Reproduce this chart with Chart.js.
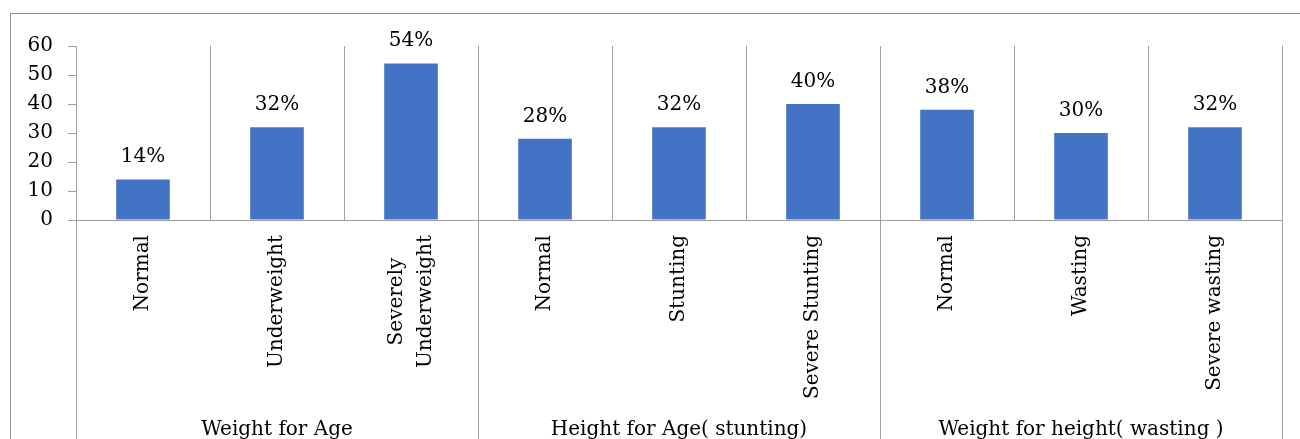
<!DOCTYPE html>
<html><head><meta charset="utf-8">
<script src="https://cdn.jsdelivr.net/npm/chart.js@4"></script>
<style>html,body{margin:0;padding:0;background:#fff;overflow:hidden}#wrap{width:1300px;height:439px;position:relative}</style>
</head><body><div id="wrap"><canvas id="c" width="1300" height="439"></canvas></div>
<script>
const categories = [['Normal'], ['Underweight'], ['Severely', 'Underweight'], ['Normal'], ['Stunting'], ['Severe Stunting'], ['Normal'], ['Wasting'], ['Severe wasting']];
const values = [14, 32, 54, 28, 32, 40, 38, 30, 32];
const groups = ['Weight for Age', 'Height for Age( stunting)', 'Weight for height( wasting )'];
const groupSizes = [3, 3, 3];
const yTicks = [0, 10, 20, 30, 40, 50, 60];

const FONT = '"DejaVu Serif", serif';
const GRID = '#a0a0a0';

const overlay = {
  id: 'overlay',
  afterDraw(chart) {
    const ctx = chart.ctx, xs = chart.scales.x, area = chart.chartArea;
    ctx.save();
    // outer frame
    ctx.strokeStyle = '#8c8c8c'; ctx.lineWidth = 1;
    ctx.beginPath(); ctx.moveTo(10.5, 439); ctx.lineTo(10.5, 13.5); ctx.lineTo(1300, 13.5); ctx.stroke();
    // value labels
    ctx.fillStyle = '#000';
    ctx.font = '20px ' + FONT;
    ctx.textAlign = 'center'; ctx.textBaseline = 'alphabetic';
    chart.getDatasetMeta(0).data.forEach((bar, i) => {
      ctx.fillText(values[i] + '%', bar.x, bar.y - 17);
    });
    // category labels (rotated)
    const lh = 29;
    categories.forEach((lines, i) => {
      const px = xs.getPixelForTick(i);
      const maxW = Math.max(...lines.map(t => ctx.measureText(t).width));
      lines.forEach((t, j) => {
        const cx = px + (j - (lines.length - 1) / 2) * lh;
        ctx.save();
        ctx.translate(cx, area.bottom + 15 + maxW / 2);
        ctx.rotate(-Math.PI / 2);
        ctx.textAlign = 'center'; ctx.textBaseline = 'middle';
        ctx.fillText(t, 0, 0);
        ctx.restore();
      });
    });
    // group separators and labels
    ctx.strokeStyle = GRID; ctx.lineWidth = 1;
    let start = 0;
    const edges = [xs.getPixelForValue(-0.5)];
    groupSizes.forEach((n, g) => {
      const l = xs.getPixelForValue(start - 0.5), r = xs.getPixelForValue(start + n - 0.5);
      edges.push(r);
      ctx.textAlign = 'center'; ctx.textBaseline = 'alphabetic';
      ctx.fillText(groups[g], (l + r) / 2, 435);
      start += n;
    });
    edges.forEach(e => {
      const xx = Math.round(e) + 0.5;
      ctx.beginPath(); ctx.moveTo(xx, area.bottom); ctx.lineTo(xx, 439); ctx.stroke();
    });
    ctx.restore();
  }
};

new Chart(document.getElementById('c'), {
  type: 'bar',
  data: {
    labels: categories.map(l => l.join(' ')),
    datasets: [{ data: values, backgroundColor: '#4472C4', barPercentage: 0.4, categoryPercentage: 1 }]
  },
  options: {
    responsive: false, animation: false, devicePixelRatio: 1,
    layout: { padding: { top: 46, right: 18, left: 0, bottom: 0 } },
    plugins: { legend: { display: false }, tooltip: { enabled: false } },
    scales: {
      x: {
        offset: true,
        grid: { display: true, color: GRID, drawOnChartArea: true, drawTicks: false, offset: true },
        border: { display: true, color: GRID },
        ticks: { display: false },
        afterFit(s) { s.height = 219; }
      },
      y: {
        min: 0, max: 60,
        afterBuildTicks(s) { s.ticks = yTicks.map(v => ({ value: v })); },
        grid: { display: true, drawOnChartArea: false, drawTicks: true, tickLength: 8, color: GRID },
        border: { display: true, color: GRID },
        ticks: { color: '#000', font: { family: FONT, size: 20 }, padding: 15 },
        afterFit(s) { s.width = 76; }
      }
    }
  },
  plugins: [overlay]
});
</script></body></html>
